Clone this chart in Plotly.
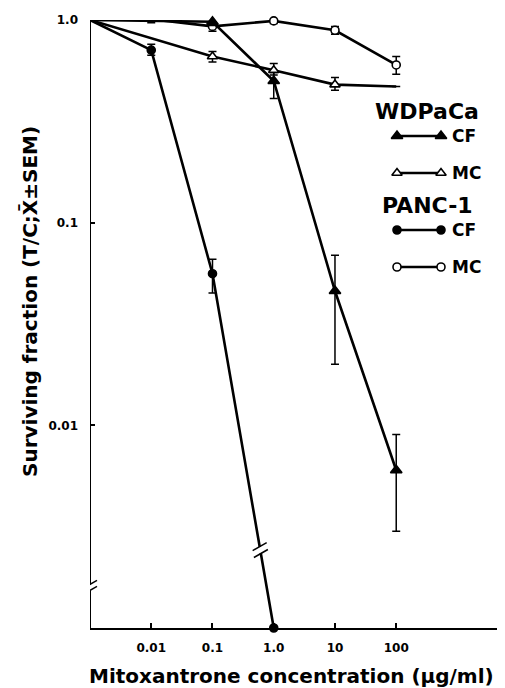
import math
import plotly.graph_objects as go

# ---------------- data ----------------
# dose 0.001 = untreated control drawn at the axis origin
wd_cf_dose = [0.001, 0.1, 1.0, 10, 100]
wd_cf_sf = [1.0, 0.98, 0.50, 0.046, 0.006]
wd_cf_err_hi = [0, 0.07, 0.05, 0.023, 0.003]
wd_cf_err_lo = [0, 0.04, 0.09, 0.026, 0.003]

wd_mc_dose = [0.001, 0.1, 1.0, 10, 100]
wd_mc_sf = [1.0, 0.66, 0.565, 0.48, 0.47]
wd_mc_err_hi = [0, 0.04, 0.045, 0.04, 0]
wd_mc_err_lo = [0, 0.04, 0.03, 0.03, 0]

pa_cf_dose = [0.001, 0.01, 0.1, 1.0]
pa_cf_sf = [1.0, 0.71, 0.056, 0.001]
pa_cf_err_hi = [0, 0.05, 0.010, 0]
pa_cf_err_lo = [0, 0.04, 0.011, 0]

pa_mc_dose = [0.001, 0.01, 0.1, 1.0, 10, 100]
pa_mc_sf = [1.0, 1.01, 0.93, 0.99, 0.89, 0.60]
pa_mc_err_hi = [0, 0.04, 0.05, 0.03, 0.04, 0.06]
pa_mc_err_lo = [0, 0.04, 0.05, 0.03, 0.04, 0.06]

x_tick_vals = [0.01, 0.1, 1, 10, 100]
x_tick_text = ["0.01", "0.1", "1.0", "10", "100"]
y_tick_vals = [1, 0.1, 0.01]
y_tick_text = ["1.0", "0.1", "0.01"]

legend_groups = ["WDPaCa", "PANC-1"]
legend_items = ["CF", "MC"]

# ---------------- layout constants (page pixels) ----------------
PAGE_W, PAGE_H = 505, 688
OFF = 8                      # default body margin of the html page
W, H = PAGE_W - OFF, PAGE_H - OFF
L, R, T, B = 90, 505, 20, 628
XR = [-3, 3.776]
YR = [-3, 0]
FONT = "DejaVu Sans"


def px(lx):
    return L + (lx - XR[0]) / (XR[1] - XR[0]) * (R - L)


def py(ly):
    return B - (ly - YR[0]) / (YR[1] - YR[0]) * (B - T)


def paper_x(p):
    return (p - L) / (R - L)


def paper_y(p):
    return (B - p) / (B - T)


fig = go.Figure()


def add_series(dose, sf, hi, lo, symbol, fill, sizes):
    fig.add_trace(go.Scatter(
        x=dose, y=sf, mode="lines+markers",
        line=dict(color="black", width=2.6),
        marker=dict(symbol=symbol, size=sizes, color=fill, opacity=1,
                    line=dict(color="black", width=1.6)),
        error_y=dict(type="data", symmetric=False, array=hi, arrayminus=lo,
                     color="black", thickness=1.5, width=4),
        opacity=1, cliponaxis=False, showlegend=False, hoverinfo="x+y"))


# the control point (axis origin) carries no marker; last WDPaCa MC point has none either
add_series(wd_mc_dose, wd_mc_sf, wd_mc_err_hi, wd_mc_err_lo,
           "triangle-up", "white", [0, 9, 9, 9, 0])
add_series(pa_mc_dose, pa_mc_sf, pa_mc_err_hi, pa_mc_err_lo,
           "circle", "white", [0, 8, 8, 8, 8, 8])
add_series(wd_cf_dose, wd_cf_sf, wd_cf_err_hi, wd_cf_err_lo,
           "triangle-up", "black", [0, 10, 10, 10, 10])
add_series(pa_cf_dose, pa_cf_sf, pa_cf_err_hi, pa_cf_err_lo,
           "circle", "black", [0, 8, 8, 8])

# ---------------- key (drawn on a pixel overlay axis) ----------------
key_rows = [
    (legend_groups[0], None, 111),
    (legend_items[0], ("triangle-up", "black", 10), 136),
    (legend_items[1], ("triangle-up", "white", 9), 173),
    (legend_groups[1], None, 205),
    (legend_items[0], ("circle", "black", 8), 230),
    (legend_items[1], ("circle", "white", 8), 267),
]
annotations = []
for text, style, yk in key_rows:
    if style is None:
        annotations.append(dict(x=paper_x(427), y=paper_y(yk), xref="paper", yref="paper",
                                text=text, showarrow=False, xanchor="center", yanchor="middle",
                                font=dict(family=FONT, size=22, color="black", weight="bold")))
    else:
        sym, fill, sz = style
        fig.add_trace(go.Scatter(
            x=[397, 441], y=[yk, yk], xaxis="x2", yaxis="y2", mode="lines+markers",
            line=dict(color="black", width=2.6),
            marker=dict(symbol=sym, size=sz, color=fill, line=dict(color="black", width=1.6)),
            cliponaxis=False, showlegend=False, hoverinfo="skip"))
        annotations.append(dict(x=paper_x(450), y=paper_y(yk), xref="paper", yref="paper",
                                text=text, showarrow=False, xanchor="left", yanchor="middle",
                                font=dict(family=FONT, size=17, color="black", weight="bold")))

# axis titles
annotations.append(dict(x=paper_x(291), y=paper_y(676), xref="paper", yref="paper",
                        text="Mitoxantrone concentration (µg/ml)", showarrow=False,
                        xanchor="center", yanchor="middle",
                        font=dict(family=FONT, size=20, color="black", weight="bold")))
annotations.append(dict(x=paper_x(30), y=paper_y(302), xref="paper", yref="paper",
                        text="Surviving fraction (T/C;X\u0304±SEM)", showarrow=False,
                        textangle=-90, xanchor="center", yanchor="middle",
                        font=dict(family=FONT, size=20, color="black", weight="bold")))

# ---------------- shapes: y axis line with break, break on PANC-1 CF line ----------------
shapes = []
yb = py(-2.8)
shapes.append(dict(type="line", xref="x2", yref="y2", x0=L, x1=L, y0=T, y1=yb - 3,
                   line=dict(color="black", width=2)))
shapes.append(dict(type="line", xref="x2", yref="y2", x0=L, x1=L, y0=yb + 3, y1=B,
                   line=dict(color="black", width=2)))
for dy in (-3, 3):
    shapes.append(dict(type="line", xref="x2", yref="y2", x0=L - 7, x1=L + 7,
                       y0=yb + dy + 4, y1=yb + dy - 4, line=dict(color="black", width=1.5)))

# break on PANC-1 CF segment between 0.1 and 1.0
f = 0.78
lx0, lx1 = math.log10(pa_cf_dose[2]), math.log10(pa_cf_dose[3])
ly0, ly1 = math.log10(pa_cf_sf[2]), math.log10(pa_cf_sf[3])
cx, cy = px(lx0 + f * (lx1 - lx0)), py(ly0 + f * (ly1 - ly0))
ux, uy = px(lx1) - px(lx0), py(ly1) - py(ly0)
n = math.hypot(ux, uy)
ux, uy = ux / n, uy / n
shapes.append(dict(type="line", xref="x2", yref="y2", x0=cx - 3 * ux, x1=cx + 3 * ux,
                   y0=cy - 3 * uy, y1=cy + 3 * uy, line=dict(color="white", width=6),
                   layer="above"))
for s in (-3.5, 3.5):
    sx, sy = cx + s * ux, cy + s * uy
    shapes.append(dict(type="line", xref="x2", yref="y2", x0=sx - 7, x1=sx + 7,
                       y0=sy + 4, y1=sy - 4, line=dict(color="black", width=1.5),
                       layer="above"))

fig.update_layout(
    width=W, height=H,
    margin=dict(l=L - OFF, r=PAGE_W - R, t=T - OFF, b=PAGE_H - B, pad=0),
    paper_bgcolor="white", plot_bgcolor="white",
    showlegend=False,
    annotations=annotations, shapes=shapes,
    xaxis=dict(type="log", range=XR, tickvals=x_tick_vals, ticktext=x_tick_text,
               ticks="inside", ticklen=5, tickwidth=1.5, tickcolor="black",
               showline=True, linecolor="black", linewidth=2, showgrid=False,
               zeroline=False, ticklabelstandoff=8,
               tickfont=dict(family=FONT, size=12, color="black", weight="bold")),
    yaxis=dict(type="log", range=YR, tickvals=y_tick_vals, ticktext=y_tick_text,
               ticks="inside", ticklen=5, tickwidth=1.5, tickcolor="black",
               showline=False, showgrid=False, zeroline=False, ticklabelstandoff=11,
               tickfont=dict(family=FONT, size=12, color="black", weight="bold")),
    xaxis2=dict(overlaying="x", range=[L, R], visible=False, fixedrange=True),
    yaxis2=dict(overlaying="y", range=[B, T], visible=False, fixedrange=True),
)

fig.write_html("out.html")
